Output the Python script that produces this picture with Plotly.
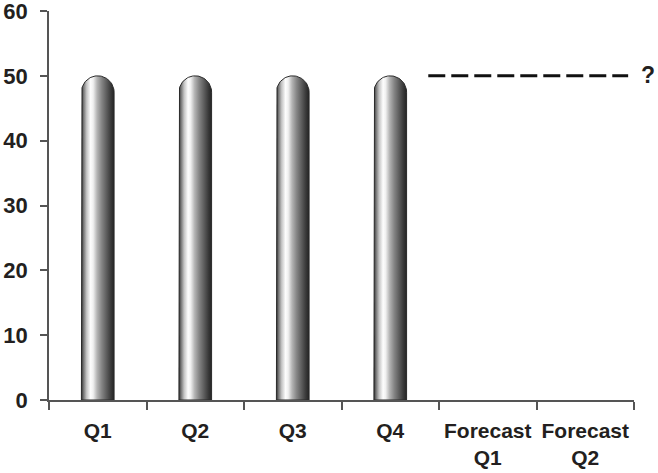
import numpy as np
import plotly.graph_objects as go

# ---- data ----
quarters = ["Q1", "Q2", "Q3", "Q4", "Forecast<br>Q1", "Forecast<br>Q2"]
sales = [50, 50, 50, 50, None, None]
forecast_level = 50
y_ticks = [0, 10, 20, 30, 40, 50, 60]

# ---- geometry / style ----
W, H = 658, 473
M = dict(l=49, r=24, t=11, b=73, autoexpand=False)
plot_w = W - M["l"] - M["r"]
plot_h = H - M["t"] - M["b"]
y_max = 60
n_cat = len(quarters)
bar_width = 0.335                     # in category units
px_per_x = plot_w / n_cat
px_per_y = plot_h / y_max

TEXT = "#231f20"
AXIS = "#555555"
FONT = "Liberation Sans"

# metallic cylinder shading, left to right
metal = [
    [0.00, "#2e2e2e"],
    [0.06, "#707070"],
    [0.16, "#c4c4c4"],
    [0.28, "#fdfdfd"],
    [0.36, "#f0f0f0"],
    [0.48, "#b4b4b4"],
    [0.62, "#858585"],
    [0.78, "#5a5a5a"],
    [0.90, "#3a3a3a"],
    [1.00, "#242424"],
]


def capsule(i, v):
    """Outline of a bar at category i with a semicircular top reaching v."""
    half = bar_width / 2
    ry = half * px_per_x / px_per_y       # keep the cap round on screen
    shoulder = v - ry
    t = np.linspace(np.pi, 0, 48)
    xs = [i - half, i - half] + list(i + half * np.cos(t)) + [i + half, i - half]
    ys = [0, shoulder] + list(shoulder + ry * np.sin(t)) + [0, 0]
    return xs, ys


fig = go.Figure()

for i, v in enumerate(sales):
    if v is None:
        continue
    xs, ys = capsule(i, v)
    fig.add_trace(go.Scatter(
        x=xs, y=ys, mode="lines", fill="toself",
        line=dict(color="#2a2a2a", width=1),
        fillgradient=dict(type="horizontal", colorscale=metal,
                          start=i - bar_width / 2, stop=i + bar_width / 2),
        hoverinfo="skip", showlegend=False,
    ))

# dashed projection across the forecast quarters
fig.add_trace(go.Scatter(
    x=[3.39, 5.44], y=[forecast_level, forecast_level], mode="lines",
    line=dict(color="#111111", width=3, dash="17px,6px"),
    hoverinfo="skip", showlegend=False, cliponaxis=False,
))

fig.add_annotation(
    x=5.5, y=forecast_level, xref="x", yref="y", text="?",
    showarrow=False, xanchor="left", yanchor="middle", xshift=5, yshift=1,
    font=dict(family=FONT, size=23, color=TEXT, weight="bold"),
)

fig.update_layout(
    width=W, height=H,
    margin=M,
    paper_bgcolor="white", plot_bgcolor="white",
    font=dict(family=FONT, size=21, color=TEXT, weight="bold"),
    showlegend=False,
    xaxis=dict(
        range=[-0.5, n_cat - 0.5], automargin=False,
        tickmode="array", tickvals=list(range(n_cat)), ticktext=quarters,
        ticks="", showgrid=False, zeroline=False,
        showline=True, linecolor=AXIS, linewidth=1.5,
        ticklabelstandoff=11, ticklabeloverflow="allow",
        tickfont=dict(family=FONT, size=21, color=TEXT, weight="bold"),
        minor=dict(tick0=-0.5, dtick=1, ticks="outside", ticklen=8,
                   tickcolor=AXIS, tickwidth=1.5, showgrid=False),
    ),
    yaxis=dict(
        range=[0, y_max], tickmode="array", tickvals=y_ticks, automargin=False,
        ticks="outside", ticklen=7, tickcolor=AXIS, tickwidth=1.5,
        showgrid=False, zeroline=False,
        showline=True, linecolor=AXIS, linewidth=1.5,
        ticklabelstandoff=8, ticklabeloverflow="allow",
        tickfont=dict(family=FONT, size=22, color=TEXT, weight="bold"),
    ),
)

fig.write_html("out.html")
